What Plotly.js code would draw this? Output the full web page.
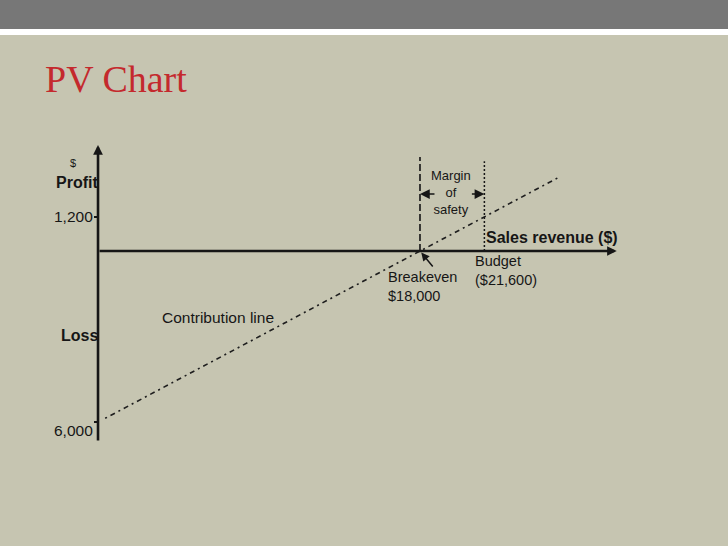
<!DOCTYPE html>
<html>
<head>
<meta charset="utf-8">
<script src="https://cdn.plot.ly/plotly-3.0.1.min.js"></script>
<style>
  html, body { margin: 0; padding: 0; background: #c6c5b1; }
  #chart { width: 728px; height: 546px; }
</style>
</head>
<body>
<div id="chart"></div>
<script>
// ------------------------------------------------------------
// PV Chart: profit ($) against sales revenue ($)
// ------------------------------------------------------------

// Contribution line
const contribRevenue = [400, 18000, 25800];
const contribProfit  = [-5870, 0, 2600];

// Key revenue points
const breakevenRevenue = 18000;
const budgetRevenue    = 21600;

// Profit axis ticks
const profitTickVals = [1200, -6000];
const profitTickText = ['1,200', '6,000'];

// Extents of the drawn axes and markers (data units)
const revenueAxisEnd   = 29000;
const profitAxisTop    = 3720;
const profitAxisBottom = -6700;
const markerTops       = [3300, 3150];
const marginArrowAt    = 2000;

const W = 728, H = 546;
const ink  = '#161616';
const sans = 'Liberation Sans, Arial, sans-serif';

// pixel -> paper helpers (margin is 0, so paper == page)
const px = x => x / W;
const py = y => 1 - y / H;

function label(text, x, y, opts) {
  return Object.assign({
    text: text, x: px(x), y: py(y), xref: 'paper', yref: 'paper',
    showarrow: false, xanchor: 'left', yanchor: 'middle', align: 'left',
    font: { family: sans, size: 15, color: ink }
  }, opts || {});
}

function arrow(x, y, ax, ay, opts) {
  return Object.assign({
    text: '', x: x, y: y, ax: ax, ay: ay, xref: 'x', yref: 'y',
    axref: 'x', ayref: 'y', showarrow: true,
    arrowhead: 2, arrowcolor: ink, arrowwidth: 1.5, arrowsize: 1
  }, opts || {});
}

const contribution = {
  x: contribRevenue,
  y: contribProfit,
  type: 'scatter',
  mode: 'lines',
  line: { color: '#1e1e1e', width: 1.6, dash: '2px,4px,5px,4px' },
  hoverinfo: 'skip'
};

const breakevenMarker = {
  x: [breakevenRevenue, breakevenRevenue],
  y: [0, markerTops[0]],
  type: 'scatter',
  mode: 'lines',
  line: { color: ink, width: 1.6, dash: '7px,3px' },
  hoverinfo: 'skip'
};

const budgetMarker = {
  x: [budgetRevenue, budgetRevenue],
  y: [0, markerTops[1]],
  type: 'scatter',
  mode: 'lines',
  line: { color: ink, width: 1.5, dash: '2px,2px' },
  hoverinfo: 'skip'
};

const annotations = [
  // axes with arrow heads
  arrow(0, profitAxisTop, 0, profitAxisBottom, { arrowwidth: 2.6, arrowsize: 0.75 }),
  arrow(revenueAxisEnd, 0, 0, 0, { arrowwidth: 2.4, arrowsize: 0.8 }),

  // margin of safety arrows
  arrow(breakevenRevenue, marginArrowAt, 16, 0, { axref: 'pixel', ayref: 'pixel', arrowsize: 1.3 }),
  arrow(budgetRevenue, marginArrowAt, -14, 0, { axref: 'pixel', ayref: 'pixel', arrowsize: 1.3 }),

  // breakeven pointer
  arrow(breakevenRevenue, 0, 14, 17, { axref: 'pixel', ayref: 'pixel', arrowsize: 1.1, standoff: 2 }),

  // tick labels
  ...profitTickText.map((t, i) => ({
    text: t, x: 0, y: profitTickVals[i], xref: 'x', yref: 'y',
    showarrow: false, xanchor: 'right', yanchor: 'middle',
    xshift: -3, yshift: i === 1 ? -8 : 0,
    font: { family: sans, size: 15.5, color: ink }
  })),

  label('$', 73, 163, { xanchor: 'center', font: { family: sans, size: 11, color: ink } }),
  label('<b>Profit</b>', 100, 183, { xanchor: 'right', font: { family: sans, size: 16, color: ink } }),
  label('<b>Loss</b>', 100, 335, { xanchor: 'right', font: { family: sans, size: 16, color: ink } }),
  label('Contribution line', 160, 317, { font: { family: sans, size: 15.5, color: ink } }),

  label('Margin<br>of<br>safety', 451, 192, {
    xanchor: 'center', align: 'center', font: { family: sans, size: 13, color: ink }
  }),

  label('<b>Sales revenue ($)</b>', 484, 237, { font: { family: sans, size: 16, color: ink } }),

  label('Budget<br>($21,600)', 473, 270, { font: { family: sans, size: 14.5, color: ink } }),
  label('Breakeven<br>$18,000', 386, 286, { font: { family: sans, size: 14.5, color: ink } })
];

const layout = {
  width: W,
  height: H,
  margin: { l: 0, r: 0, t: 0, b: 0 },
  paper_bgcolor: '#c6c5b1',
  plot_bgcolor: 'rgba(0,0,0,0)',
  showlegend: false,
  title: {
    text: 'PV Chart',
    font: { family: 'Liberation Serif, Times New Roman, serif', size: 38, color: '#c4292d' },
    x: px(45), xref: 'paper', xanchor: 'left',
    y: py(79), yref: 'container', yanchor: 'middle'
  },
  xaxis: {
    range: [-5480, 35220],
    visible: false,
    fixedrange: true
  },
  yaxis: {
    range: [-10350, 8810],
    anchor: 'free',
    position: px(98),
    showgrid: false,
    zeroline: false,
    showline: false,
    ticks: 'outside',
    ticklen: 4,
    tickwidth: 1.5,
    tickcolor: ink,
    tickvals: profitTickVals,
    showticklabels: false,
    fixedrange: true
  },
  shapes: [
    // slide header bar and white rule
    { type: 'rect', xref: 'paper', yref: 'paper', x0: 0, x1: 1, y0: py(29), y1: 1,
      fillcolor: '#777777', line: { width: 0 }, layer: 'below' },
    { type: 'rect', xref: 'paper', yref: 'paper', x0: 0, x1: 1, y0: py(35), y1: py(29),
      fillcolor: '#ffffff', line: { width: 0 }, layer: 'below' }
  ],
  annotations: annotations
};

Plotly.newPlot('chart', [contribution, breakevenMarker, budgetMarker], layout, {
  displayModeBar: false,
  staticPlot: true
});
</script>
</body>
</html>
